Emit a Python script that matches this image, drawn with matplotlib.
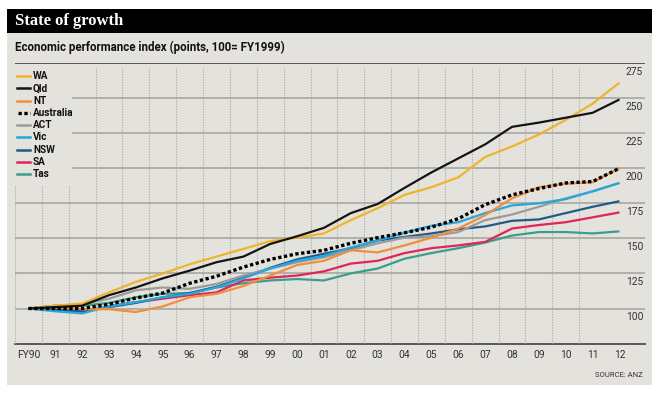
import matplotlib
matplotlib.use("Agg")
import matplotlib.pyplot as plt
from matplotlib.patches import Rectangle
from matplotlib.lines import Line2D

years = list(range(1990, 2013))
year_labels = ["FY90", "91", "92", "93", "94", "95", "96", "97", "98", "99", "00",
               "01", "02", "03", "04", "05", "06", "07", "08", "09", "10", "11", "12"]

wa  = [100, 102, 103.5, 111.5, 119, 125, 131.5, 137, 142.5, 148, 150.5, 153.5, 163, 171.5, 181, 186.5, 193.5, 208, 215.5, 224, 234.5, 246, 261]
qld = [100, 101, 102, 109.5, 115, 121.5, 127, 133, 137, 146, 151.5, 157.5, 168, 174.5, 186, 197, 207, 217, 229.5, 232.5, 236, 239.5, 249]
nt  = [100, 101, 99.5, 99.5, 97.5, 101.5, 108, 110.5, 116, 123.5, 131, 134, 141.5, 140, 145, 150.5, 157, 166.5, 178.5, 186.5, 189, 190, 200]
aus = [100, 100, 100, 103, 107.5, 111, 118, 123, 129.5, 135, 139, 141.5, 146.5, 150.5, 154, 158, 164, 174, 181, 185.5, 189.5, 190.5, 200]
act = [100, 102, 103, 107, 113, 115, 114, 117.5, 123.5, 128.5, 133, 136.5, 141.5, 146.5, 150.5, 151.5, 154.5, 163, 167, 172.5, 178.5, 183.5, 189.5]
vic = [100, 98, 96.5, 101.5, 104.5, 108, 110.5, 115, 121.5, 128.5, 134, 137.5, 143.5, 148.5, 154, 159, 161.5, 168, 173.5, 175, 178, 183.5, 189.5]
nsw = [100, 99, 98, 101, 104, 108, 111, 115.5, 122, 129, 135, 139, 143, 148.5, 151, 153.5, 156.5, 158.5, 162.5, 163.5, 168, 172.5, 176.5]
sa  = [100, 99, 97.5, 101.5, 104.5, 107, 109.5, 111.5, 120, 122, 123.5, 126.5, 132, 134, 139.5, 143, 145, 147.5, 157, 159.5, 161.5, 165, 168.5]
tas = [100, 102, 102, 104, 108, 110.5, 111, 115, 118, 120, 121, 120, 125, 128.5, 135.5, 139.5, 143, 147, 152, 154.5, 154.5, 153.5, 155]

series_names = ["WA", "Qld", "NT", "Australia", "ACT", "Vic", "NSW", "SA", "Tas"]
series_values = [wa, qld, nt, aus, act, vic, nsw, sa, tas]
series_colors = ["#f0b429", "#141414", "#f08f3a", "#000000", "#9b9b9b",
                 "#23a8e0", "#1f5a8a", "#e0245c", "#3a9e8c"]
draw_order = ["Tas", "SA", "NSW", "ACT", "Vic", "NT", "WA", "Qld", "Australia"]

y_ticks = [100, 125, 150, 175, 200, 225, 250, 275]

W, H = 658, 393
fig = plt.figure(figsize=(W / 100, H / 100), dpi=100)
fig.patch.set_facecolor("white")

def fx(px):
    return px / W

def fy(py):
    return 1 - py / H

# panel background
fig.patches.append(Rectangle((fx(7), fy(385)), fx(652) - fx(7), fy(9) - fy(385),
                             transform=fig.transFigure, facecolor="#e4e2dc",
                             edgecolor="none", zorder=-10))
# title bar
fig.patches.append(Rectangle((fx(7), fy(33)), fx(652) - fx(7), fy(9) - fy(33),
                             transform=fig.transFigure, facecolor="#000000",
                             edgecolor="none", zorder=-9))

sans = ["Roboto", "DejaVu Sans"]

fig.text(fx(15), fy(21), "State of growth", color="white",
         fontfamily=["Liberation Serif", "DejaVu Serif"], fontweight="bold",
         fontsize=12, va="center", ha="left")
fig.text(fx(15), fy(47), "Economic performance index (points, 100= FY1999)",
         color="#111111", fontfamily=sans, fontweight="bold",
         fontsize=8.3, va="center", ha="left")
fig.text(fx(643), fy(375), "SOURCE: ANZ", color="#333333", fontfamily=sans,
         fontsize=5.5, va="center", ha="right")

ax_left, ax_right, ax_top, ax_bot = 15, 645, 63, 344
ax = fig.add_axes([fx(ax_left), fy(ax_bot), fx(ax_right) - fx(ax_left), fy(ax_top) - fy(ax_bot)])
ax.set_zorder(2)
ax.set_facecolor("none")
ymin, ymax = 74.7, 275
ax.set_ylim(ymin, ymax)
ax.set_xlim(1989.5, 2012.95)

for s in ax.spines.values():
    s.set_visible(False)
ax.set_yticks([])
ax.set_xticks(years)
ax.set_xticklabels(year_labels, fontfamily=sans, fontsize=7.4, color="#333333")
ax.tick_params(axis="x", length=0, pad=4)

# horizontal gridlines
legend_frac = (73 - ax_left) / (ax_right - ax_left)
for v in y_ticks:
    if v == 275:
        ax.axhline(v, color="#5a5856", lw=1.4, zorder=1)
    elif v in (200, 225, 250):
        ax.axhline(v, xmin=legend_frac, color="#a9a6a0", lw=1.2, zorder=1)
    else:
        ax.axhline(v, color="#a9a6a0", lw=1.2, zorder=1)
    ax.text(0.997, v - 2.7, str(v), transform=ax.get_yaxis_transform(),
            ha="right", va="top", fontfamily=sans, fontsize=7.4, color="#333333")
ax.axhline(ymin, color="#5a5856", lw=1.4, zorder=1, clip_on=False)

# vertical dotted gridlines
for k, yr in enumerate(years[:-1]):
    x = yr - 0.5
    top = 188 if k < 3 else 271.5
    ax.plot([x, x], [ymin, top], color="#a7a49e", lw=0.8, ls=(0, (1, 1.4)), zorder=1)

styles = {}
for name, vals, col in zip(series_names, series_values, series_colors):
    styles[name] = (vals, col)

for name in draw_order:
    vals, col = styles[name]
    if name == "Australia":
        ax.plot(years, vals, color=col, lw=2.4, ls=(0, (1, 0.75)), zorder=5)
    else:
        ax.plot(years, vals, color=col, lw=1.6, zorder=3, solid_capstyle="butt")

# legend (manual)
leg_y0, leg_dy = 76, 12.3
for i, (name, col) in enumerate(zip(series_names, series_colors)):
    yy = fy(leg_y0 + i * leg_dy)
    if name == "Australia":
        ln = Line2D([fx(18), fx(30)], [yy, yy], transform=fig.transFigure,
                    color=col, lw=2.4, ls=(0, (1, 0.75)))
    else:
        ln = Line2D([fx(17), fx(30)], [yy, yy], transform=fig.transFigure,
                    color=col, lw=1.8)
    fig.lines.append(ln)
    fig.text(fx(33), yy, name, fontfamily=sans, fontweight="bold",
             fontsize=7.2, color="#111111", va="center", ha="left")

fig.savefig("out.png", dpi=100, facecolor="white")
